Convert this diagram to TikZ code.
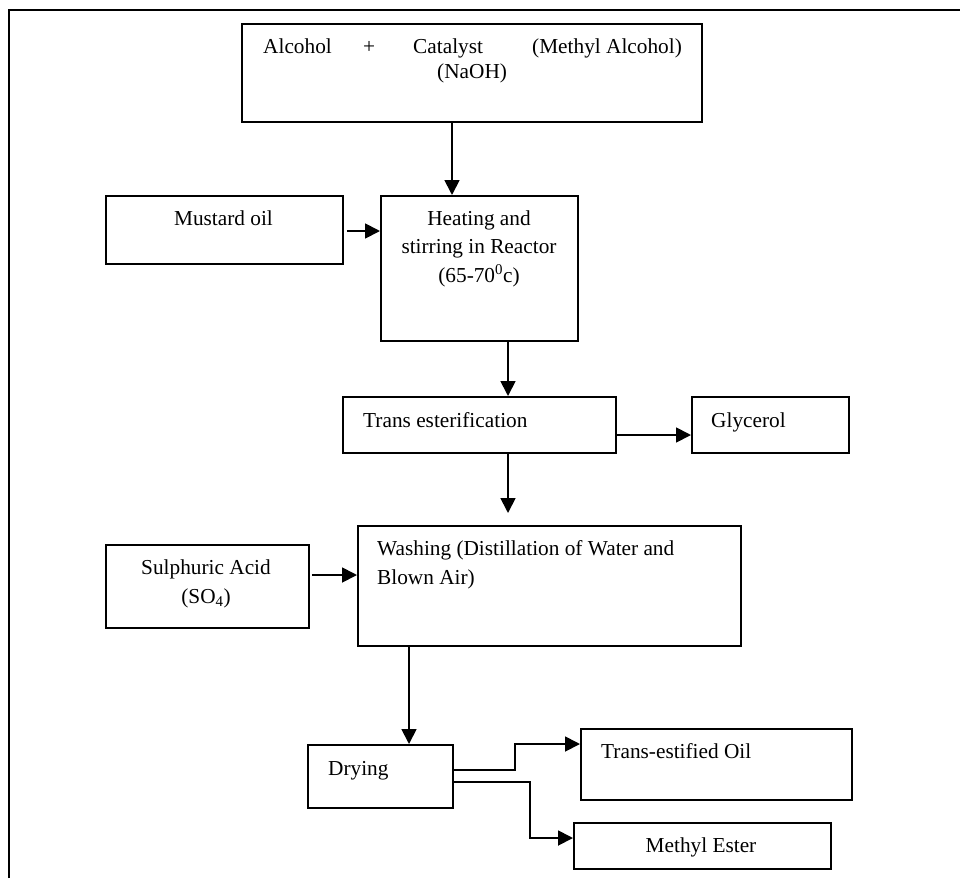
\documentclass[tikz,border=0pt]{standalone}
\usepackage{fontspec}
\setmainfont{Liberation Serif}
\usetikzlibrary{arrows.meta}
\begin{document}
\begin{tikzpicture}[x=1pt,y=-1pt,
  box/.style={draw,line width=1.8pt,anchor=north west,inner sep=0pt},
  txt/.style={inner sep=0pt,font=\fontsize{21.3}{28.5}\selectfont},
  arr/.style={line width=1.8pt,-{Triangle[length=15pt,width=15pt]}}]
\useasboundingbox (0,0) rectangle (960,878);
\draw[line width=2pt] (9.3,878) -- (9.3,10) -- (960,10);
% boxes (x,y of top-left corner; sizes in px)
\node[box,minimum width=460pt,minimum height=98pt] (top) at (241,23) {};
\node[box,minimum width=237pt,minimum height=68pt] (mustard) at (105,195) {};
\node[box,minimum width=197pt,minimum height=145pt] (heat) at (380,195) {};
\node[box,minimum width=273pt,minimum height=56pt] (trans) at (342,396) {};
\node[box,minimum width=157pt,minimum height=56pt] (gly) at (691,396) {};
\node[box,minimum width=203pt,minimum height=83pt] (sulph) at (105,544) {};
\node[box,minimum width=383pt,minimum height=120pt] (wash) at (357,525) {};
\node[box,minimum width=145pt,minimum height=63pt] (dry) at (307,744) {};
\node[box,minimum width=271pt,minimum height=71pt] (toil) at (580,728) {};
\node[box,minimum width=257pt,minimum height=46pt] (mester) at (573,822) {};
% texts
\node[txt,anchor=base west] (t1) at (263,53) {Alcohol};
\node[txt,anchor=base west] (t2) at (363,53) {+};
\node[txt,anchor=base west] (t3) at (413,53) {Catalyst};
\node[txt,anchor=base west] (t4) at (532,53) {(Methyl Alcohol)};
\node[txt,anchor=base west] (t5) at (437,78) {(NaOH)};
\node[txt,anchor=base] (tm) at (223.5,225) {Mustard oil};
\node[txt,anchor=base,align=center] (th) at (479,282) {Heating and\\stirring in Reactor\\(65-70\textsuperscript{0}c)};
\node[txt,anchor=base west] (tt) at (363,427) {Trans esterification};
\node[txt,anchor=base west] (tg) at (711,427) {Glycerol};
\node[txt,anchor=base,align=center] (ts) at (206,603) {Sulphuric Acid\\(SO\textsubscript{4})};
\node[txt,anchor=base west,align=left] (tw) at (377,584) {Washing (Distillation of Water and\\Blown Air)};
\node[txt,anchor=base west] (td) at (328,775) {Drying};
\node[txt,anchor=base west] (to) at (601,758) {Trans-estified Oil};
\node[txt,anchor=base] (tme) at (701,852) {Methyl Ester};
% connectors
\draw[arr] (top.south -| 452,0) -- (heat.north -| 452,0);
\draw[arr] (mustard.east |- 0,231) ++(3,0) -- (heat.west |- 0,231);
\draw[arr] (heat.south -| 508,0) -- (trans.north -| 508,0);
\draw[arr] (trans.east |- 0,435) -- (gly.west |- 0,435);
\coordinate (wtip) at (508,513);
\draw[arr] (trans.south -| 508,0) -- (wtip);
\draw[arr] (sulph.east |- 0,575) ++(2,0) -- (wash.west |- 0,575);
\draw[arr] (wash.south -| 409,0) -- (dry.north -| 409,0);
\draw[arr] (dry.east |- 0,770) -- (515,770) -- (515,744) -- (toil.west |- 0,744);
\draw[arr] (dry.east |- 0,782) -- (530,782) -- (530,838) -- (mester.west |- 0,838);
\end{tikzpicture}
\end{document}
